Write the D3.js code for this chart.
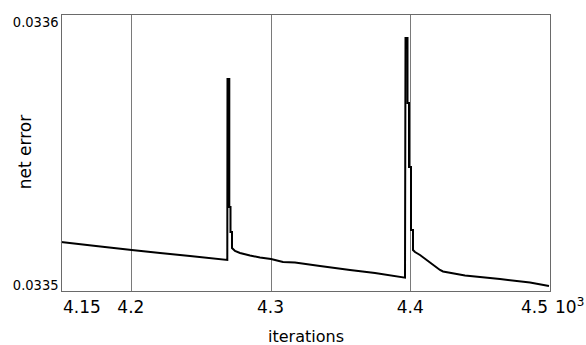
<!DOCTYPE html>
<html>
<head>
<meta charset="utf-8">
<script src="https://cdn.jsdelivr.net/npm/d3@7"></script>
<style>
  body { margin: 0; background: #fff; }
  text { font-family: "DejaVu Sans", sans-serif; fill: #000; }
</style>
</head>
<body>
<div id="chart"></div>
<script>

// iterations in units of 10^3
var iterations = [4.15000, 4.17500, 4.20060, 4.22090, 4.24230, 4.26903,
    4.26917, 4.27046, 4.27046, 4.27132, 4.27132, 4.27239, 4.27239,
    4.27454, 4.27812, 4.28528, 4.29243, 4.30031, 4.30890, 4.31749,
    4.33538, 4.35685, 4.37474, 4.39622,
    4.39658, 4.39801, 4.39801, 4.39908, 4.39908, 4.40051, 4.40051, 4.40194, 4.40194,
    4.40337, 4.40695, 4.41411, 4.42127, 4.42342, 4.43916, 4.46421, 4.48568, 4.49928];

var netError = [0.03351769, 0.03351625, 0.03351480, 0.03351372, 0.03351264, 0.03351119,
    0.03357653, 0.03357653, 0.03353032, 0.03353032, 0.03352130, 0.03352130, 0.03351552,
    0.03351444, 0.03351372, 0.03351282, 0.03351209, 0.03351155, 0.03351047, 0.03351029,
    0.03350903, 0.03350758, 0.03350650, 0.03350480,
    0.03359134, 0.03359134, 0.03356787, 0.03356787, 0.03354477, 0.03354477, 0.03352202, 0.03352202, 0.03351480,
    0.03351408, 0.03351300, 0.03351029, 0.03350758, 0.03350704, 0.03350560, 0.03350433, 0.03350307, 0.03350181];

var xTicks = [4.15, 4.2, 4.3, 4.4, 4.5];
var xTickLabels = ["4.15", "4.2", "4.3", "4.4", "4.5"];
var gridTicks = [4.2, 4.3, 4.4];
var yTicks = [0.0335, 0.0336];
var yTickLabels = ["0.0335", "0.0336"];

function draw() {
    var width = 586, height = 345;
    var mLeft = 61, mRight = 550, mTop = 14, mBottom = 291;

    var data = iterations.map(function(d, i) { return {x: d, y: netError[i]}; });

    var svg = d3.select("#chart")
        .append("svg")
        .attr("width", width)
        .attr("height", height);

    var x = d3.scaleLinear().domain([4.15, 4.5]).range([mLeft, mRight]);
    var y = d3.scaleLinear().domain([0.0335, 0.0336]).range([mBottom, mTop]);

    // vertical grid lines
    svg.selectAll(".grid")
        .data(gridTicks)
        .enter().append("line")
        .attr("class", "grid")
        .attr("x1", function(d) { return Math.round(x(d)) + 0.5; })
        .attr("x2", function(d) { return Math.round(x(d)) + 0.5; })
        .attr("y1", mTop)
        .attr("y2", mBottom)
        .attr("stroke", "#7a7a7a")
        .attr("stroke-width", 1);

    // the curve
    var line = d3.line()
        .x(function(d) { return x(d.x); })
        .y(function(d) { return y(d.y); });

    svg.append("path")
        .datum(data)
        .attr("d", line)
        .attr("fill", "none")
        .attr("stroke", "#000")
        .attr("stroke-width", 2)
        .attr("stroke-linejoin", "miter");

    // frame
    svg.append("rect")
        .attr("x", mLeft + 0.5)
        .attr("y", mTop + 0.5)
        .attr("width", mRight - mLeft)
        .attr("height", mBottom - mTop)
        .attr("fill", "none")
        .attr("stroke", "#6a6a6a")
        .attr("stroke-width", 1);

    // x tick labels: first left aligned, last right aligned
    svg.selectAll(".xlab")
        .data(xTicks)
        .enter().append("text")
        .attr("class", "xlab")
        .attr("x", function(d, i) {
            if (i == 0) return x(d) + 2;
            if (i == xTicks.length - 1) return x(d) - 2;
            return x(d);
        })
        .attr("y", 312.5)
        .attr("text-anchor", function(d, i) {
            if (i == 0) return "start";
            if (i == xTicks.length - 1) return "end";
            return "middle";
        })
        .style("font-size", "17px")
        .text(function(d, i) { return xTickLabels[i]; });

    var mult = svg.append("text")
        .attr("x", 555)
        .attr("y", 312.5)
        .style("font-size", "17px");
    mult.append("tspan").text("10");
    mult.append("tspan").attr("dy", -7).style("font-size", "12px").text("3");

    // y tick labels, kept inside the range
    svg.selectAll(".ylab")
        .data(yTicks)
        .enter().append("text")
        .attr("class", "ylab")
        .attr("x", 58.5)
        .attr("y", function(d, i) { return i == 0 ? 290 : 27; })
        .attr("text-anchor", "end")
        .style("font-family", "'DejaVu Sans Condensed', 'DejaVu Sans', sans-serif")
        .style("font-size", "14.5px")
        .text(function(d, i) { return yTickLabels[i]; });

    // axis titles
    svg.append("text")
        .attr("x", 306)
        .attr("y", 342)
        .attr("text-anchor", "middle")
        .style("font-size", "16px")
        .text("iterations");

    svg.append("text")
        .attr("transform", "translate(31,152) rotate(-90)")
        .attr("text-anchor", "middle")
        .style("font-size", "17px")
        .text("net error");
}

draw();

</script>
</body>
</html>
